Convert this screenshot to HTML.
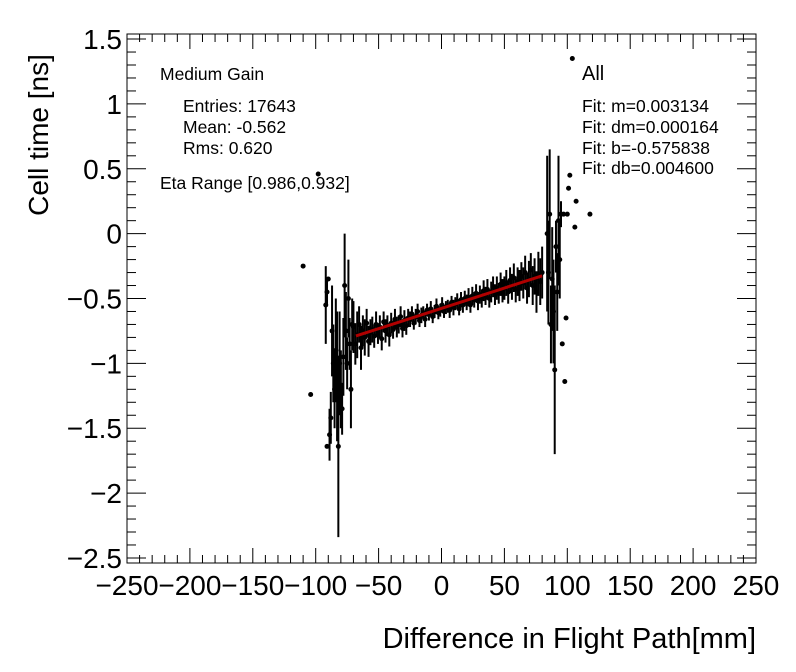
<!DOCTYPE html>
<html><head><meta charset="utf-8"><style>
body{margin:0;background:#fff}
svg{display:block;font-family:"Liberation Sans",sans-serif}
</style></head><body>
<svg id="chart" width="796" height="672">
<rect x="127" y="34" width="629" height="529" fill="#fff" stroke="#000" stroke-width="1"/>
<g id="ticks"></g>
<g id="marks"></g>
<g id="fit"></g>
<g font-size="17.5">
<text x="160" y="80">Medium Gain</text>
<text x="183" y="112">Entries: 17643</text>
<text x="183" y="133">Mean: -0.562</text>
<text x="183" y="154">Rms: 0.620</text>
<text x="160" y="189">Eta Range [0.986,0.932]</text>
<text x="582" y="80" font-size="20">All</text>
<text x="582" y="112">Fit: m=0.003134</text>
<text x="582" y="133">Fit: dm=0.000164</text>
<text x="582" y="154">Fit: b=-0.575838</text>
<text x="582" y="174">Fit: db=0.004600</text>
</g>
<text x="756" y="648" font-size="29" text-anchor="end">Difference in Flight Path[mm]</text>
<text transform="translate(48,135) rotate(-90)" font-size="28" text-anchor="middle">Cell time [ns]</text>
</svg>
<script>
const xTickLabels=["\u2212250","\u2212200","\u2212150","\u2212100","\u221250","0","50","100","150","200","250"];
const xTickValues=[-250,-200,-150,-100,-50,0,50,100,150,200,250];
const yTickLabels=["1.5","1","0.5","0","\u22120.5","\u22121","\u22121.5","\u22122","\u22122.5"];
const yTickValues=[1.5,1,0.5,0,-0.5,-1,-1.5,-2,-2.5];
const coreX0=-70, coreStep=1.5;
const coreY=[-0.72,-0.85,-0.78,-0.70,-0.88,-0.75,-0.80,-0.69,-0.83,-0.76,
-0.74,-0.79,-0.70,-0.77,-0.72,-0.81,-0.68,-0.75,-0.71,-0.78,
-0.69,-0.74,-0.66,-0.72,-0.70,-0.64,-0.73,-0.67,-0.71,-0.65,
-0.66,-0.62,-0.69,-0.64,-0.60,-0.67,-0.63,-0.61,-0.66,-0.59,
-0.62,-0.58,-0.64,-0.60,-0.56,-0.61,-0.59,-0.55,-0.60,-0.57,
-0.56,-0.59,-0.53,-0.57,-0.54,-0.52,-0.58,-0.51,-0.55,-0.50,
-0.53,-0.49,-0.55,-0.48,-0.51,-0.46,-0.52,-0.47,-0.50,-0.44,
-0.48,-0.43,-0.50,-0.45,-0.41,-0.47,-0.42,-0.46,-0.39,-0.44,
-0.42,-0.38,-0.45,-0.36,-0.41,-0.34,-0.43,-0.37,-0.40,-0.33,
-0.38,-0.30,-0.42,-0.35,-0.28,-0.40,-0.33,-0.45,-0.31,-0.37,-0.30];
const coreErr=[0.20,0.16,0.18,0.14,0.17,0.12,0.14,0.11,0.12,0.10,
0.10,0.09,0.10,0.08,0.09,0.09,0.08,0.09,0.08,0.09,
0.08,0.07,0.08,0.08,0.07,0.08,0.07,0.08,0.07,0.07,
0.06,0.06,0.05,0.06,0.06,0.05,0.06,0.05,0.06,0.05,
0.05,0.06,0.05,0.05,0.06,0.05,0.05,0.06,0.05,0.05,
0.05,0.06,0.05,0.06,0.05,0.06,0.05,0.06,0.06,0.06,
0.06,0.07,0.06,0.07,0.06,0.07,0.07,0.07,0.07,0.08,
0.07,0.08,0.07,0.08,0.08,0.08,0.09,0.08,0.09,0.09,
0.09,0.10,0.09,0.10,0.10,0.11,0.10,0.11,0.12,0.11,
0.12,0.13,0.12,0.14,0.13,0.15,0.14,0.16,0.17,0.18,0.20];
const outerX=[-110,-104,-98,-92,-91,-90,-91,-89,-88,-87,-86,-85,-84,-83,-82,-81,-80,-79,-78,-77,-76,-75,-74,-73,-72,-71,
84,85,86,87,88,89,90,91,92,93,94,95,96,97,98,99,100,101,102,104,106,107,118];
const outerY=[-0.25,-1.24,0.46,-0.55,-0.45,-0.35,-1.64,-1.55,-1.42,-0.75,-1.0,-1.2,-0.9,-1.1,-1.64,-1.0,-1.2,-1.35,-0.95,-0.4,-0.75,-1.0,-0.5,-0.85,-1.2,-0.7,
0.0,-0.3,0.15,-0.7,-0.35,-0.6,-1.05,-0.1,-0.45,0.1,-0.2,0.15,-0.85,0.15,-1.14,-0.65,0.15,0.35,0.45,1.35,0.05,0.25,0.15];
const outerErr=[0,0,0,0.3,0.1,0,0,0.2,0.2,0.35,0.3,0.3,0.4,0.5,0.7,0.4,0.3,0.2,0.3,0.4,0.3,0.2,0.3,0.2,0.3,0.2,
0.6,0.4,0.5,0.3,0.4,0.4,0.65,0.2,0.3,0.5,0.3,0.1,0,0,0,0,0,0,0,0,0,0,0];
const fitM=0.003134, fitB=-0.575838, fitRange=[-68,80];

const NS="http://www.w3.org/2000/svg";
const L=127,R=756,T=34,B=563, xmin=-250,xmax=250, ymin=-2.539,ymax=1.539;
const sx=v=>L+(v-xmin)/(xmax-xmin)*(R-L);
const sy=v=>B-(v-ymin)/(ymax-ymin)*(B-T);
function mk(tag,attrs,parent){const e=document.createElementNS(NS,tag);for(const k in attrs)e.setAttribute(k,attrs[k]);parent.appendChild(e);return e;}
const tg=document.getElementById('ticks');
for(let v=-250;v<=250;v+=10){
 const maj=v%50===0, len=maj?15:8, x=sx(v);
 const t1=mk('line',{x1:x,x2:x,y1:B,y2:B-len,stroke:'#000'},tg);
 
 
 const t2=mk('line',{x1:x,x2:x,y1:T,y2:T+len,stroke:'#000'},tg);
 
 
}
for(let i=-25;i<=15;i++){
 const v=i/10, maj=i%5===0, len=maj?19:9, y=sy(v);
 const t1=mk('line',{x1:L,x2:L+len,y1:y,y2:y,stroke:'#000'},tg);
 
 
 const t2=mk('line',{x1:R,x2:R-len,y1:y,y2:y,stroke:'#000'},tg);
 
 
}
xTickValues.forEach((v,i)=>{
 const t=mk('text',{x:sx(v),y:595,'font-size':28,'text-anchor':'middle'},tg);
 t.textContent=xTickLabels[i];
 
 
});
yTickValues.forEach((v,i)=>{
 const t=mk('text',{x:122,y:sy(v)+10,'font-size':28,'text-anchor':'end'},tg);
 t.textContent=yTickLabels[i];
 
 
});
const mg=document.getElementById('marks');
function point(x,y,e){
 if(e>0){const l=mk('line',{x1:sx(x),x2:sx(x),y1:sy(y+e),y2:sy(y-e),stroke:'#000','stroke-width':2},mg);
  
  }
 const c=mk('circle',{cx:sx(x),cy:sy(y),r:2.5,fill:'#000'},mg);
 
 
}
coreY.forEach((y,i)=>point(coreX0+i*coreStep,y,coreErr[i]));
outerX.forEach((x,i)=>point(x,outerY[i],outerErr[i]));
const fl=mk('line',{x1:sx(fitRange[0]),y1:sy(fitB+fitM*fitRange[0]),x2:sx(fitRange[1]),y2:sy(fitB+fitM*fitRange[1]),stroke:'#b00000','stroke-width':3},document.getElementById('fit'));


</script>
</body></html>
